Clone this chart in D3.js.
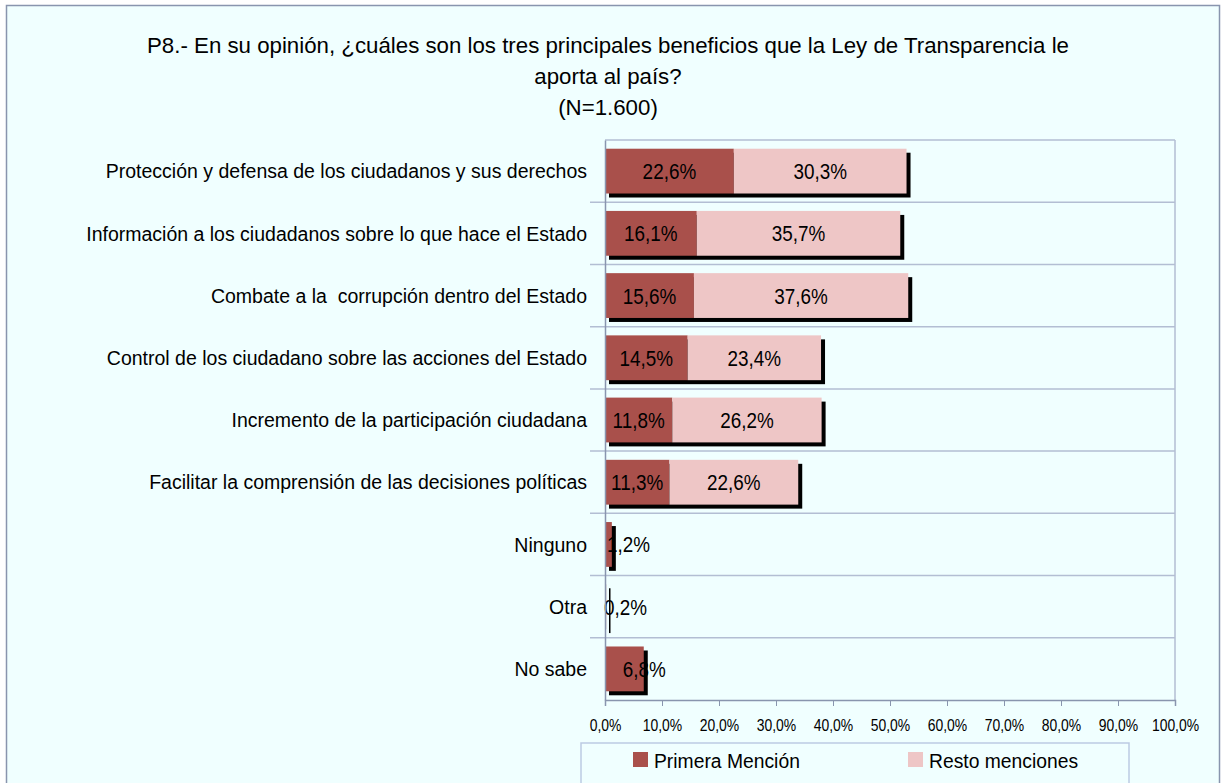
<!DOCTYPE html>
<html>
<head>
<meta charset="utf-8">
<script src="https://cdn.jsdelivr.net/npm/d3@7"></script>
<style>
  body { margin: 0; background: #fff; }
  text { font-family: "Liberation Sans", Arial, sans-serif; fill: #000; white-space: pre; }
</style>
</head>
<body>
<div id="chart"></div>
<script>
// Data
const categories = [
    "Protección y defensa de los ciudadanos y sus derechos",
    "Información a los ciudadanos sobre lo que hace el Estado",
    "Combate a la  corrupción dentro del Estado",
    "Control de los ciudadano sobre las acciones del Estado",
    "Incremento de la participación ciudadana",
    "Facilitar la comprensión de las decisiones políticas",
    "Ninguno",
    "Otra",
    "No sabe"
];
const primera = [22.6, 16.1, 15.6, 14.5, 11.8, 11.3, 1.2, 0.2, 6.8];
const resto = [30.3, 35.7, 37.6, 23.4, 26.2, 22.6, 0, 0, 0];
const seriesNames = ["Primera Mención", "Resto menciones"];
const tickValues = [0, 10, 20, 30, 40, 50, 60, 70, 80, 90, 100];
const titleLines = [
    "P8.- En su opinión, ¿cuáles son los tres principales beneficios que la Ley de Transparencia le",
    "aporta al país?",
    "(N=1.600)"
];

const width = 1222, height = 783;
const colors = ["#A9504B", "#EEC6C6"];
const fmt = v => v.toFixed(1).replace(".", ",") + "%";

// squeeze text horizontally around its own x (the reference uses a narrow font)
function condense(sel, s) {
    sel.attr("transform", function() {
        const x0 = +this.getAttribute("x") || 0;
        return `translate(${x0},0) scale(${s},1) translate(${-x0},0)`;
    });
}

const svg = d3.select("#chart").append("svg")
    .attr("width", width)
    .attr("height", height);

// Outer frame
svg.append("rect")
    .attr("x", 6.5).attr("y", 5.5)
    .attr("width", 1213).attr("height", 790)
    .attr("fill", "#F0FFFF")
    .attr("stroke", "#8995AE")
    .attr("stroke-width", 1.5);

// Title
svg.append("g").selectAll("text")
    .data(titleLines)
    .join("text")
    .attr("x", 608)
    .attr("y", (d, i) => 53 + i * 31)
    .attr("text-anchor", "middle")
    .style("font-size", "22.5px")
    .text(d => d)
    .call(condense, 0.99);

// Scales
const plot = { left: 605, right: 1175, top: 140, bottom: 700 };
const x = d3.scaleLinear().domain([0, 100]).range([plot.left, plot.right]);
const y = d3.scaleBand().domain(categories).range([plot.top, plot.bottom]).paddingInner(0.28).paddingOuter(0.14);

// Plot border + gridlines between categories
const step = y.step();
const boundaries = d3.range(categories.length).map(i => plot.top + i * step);
svg.append("g").selectAll("line")
    .data(boundaries)
    .join("line")
    .attr("x1", (d, i) => i === 0 ? plot.left : plot.left - 15)
    .attr("x2", plot.right)
    .attr("y1", d => d).attr("y2", d => d)
    .attr("stroke", "#B3BED3")
    .attr("stroke-width", 1.5);
svg.append("line")
    .attr("x1", plot.right).attr("x2", plot.right)
    .attr("y1", plot.top).attr("y2", plot.bottom)
    .attr("stroke", "#B3BED3").attr("stroke-width", 1.5);

// Bars
const rows = categories.map((c, i) => ({ cat: c, a: primera[i], b: resto[i] }));
const barG = svg.append("g");

// shadow behind each stacked bar
barG.selectAll(".shadow")
    .data(rows)
    .join("rect")
    .attr("class", "shadow")
    .attr("x", x(0) + 4)
    .attr("y", d => y(d.cat) + 4)
    .attr("width", d => Math.max(x(d.a + d.b) - x(0), 1.5))
    .attr("height", y.bandwidth())
    .attr("fill", "#000");

barG.selectAll(".seg-a")
    .data(rows)
    .join("rect")
    .attr("class", "seg-a")
    .attr("x", x(0))
    .attr("y", d => y(d.cat))
    .attr("width", d => x(d.a) - x(0))
    .attr("height", y.bandwidth())
    .attr("fill", colors[0]);

barG.selectAll(".seg-b")
    .data(rows.filter(d => d.b > 0))
    .join("rect")
    .attr("class", "seg-b")
    .attr("x", d => x(d.a))
    .attr("y", d => y(d.cat))
    .attr("width", d => x(d.a + d.b) - x(d.a))
    .attr("height", y.bandwidth())
    .attr("fill", colors[1]);

// Value labels
const labels = [];
rows.forEach(d => {
    const wA = x(d.a) - x(0);
    labels.push({ cat: d.cat, v: d.a, cx: wA < 45 ? x(d.a / 2) + 20 : x(d.a / 2) });
    if (d.b > 0) labels.push({ cat: d.cat, v: d.b, cx: x(d.a + d.b / 2) });
});
svg.append("g").selectAll("text")
    .data(labels)
    .join("text")
    .attr("x", d => d.cx)
    .attr("y", d => y(d.cat) + y.bandwidth() / 2 + 8)
    .attr("text-anchor", "middle")
    .style("font-size", "22.5px")
    .text(d => fmt(d.v))
    .call(condense, 0.84);

// Y axis
svg.append("g")
    .attr("transform", `translate(${plot.left},0)`)
    .call(d3.axisLeft(y).tickSize(0).tickPadding(18))
    .call(g => g.select(".domain").attr("stroke", "#8995AE").attr("stroke-width", 1.5))
    .call(g => g.selectAll("text")
        .style("font-size", "20px")
        .style("font-family", "'Liberation Sans', Arial, sans-serif")
        .attr("dy", "0.36em")
        .call(condense, 0.975));

// X axis
svg.append("g")
    .attr("transform", `translate(0,${plot.bottom})`)
    .call(d3.axisBottom(x).tickValues(tickValues).tickSize(6).tickPadding(14).tickFormat(fmt))
    .call(g => g.select(".domain").attr("stroke", "#8995AE").attr("stroke-width", 1.5))
    .call(g => g.selectAll(".tick line").attr("stroke", "#8995AE"))
    .call(g => g.selectAll("text")
        .style("font-size", "16px")
        .style("font-family", "'Liberation Sans', Arial, sans-serif")
        .call(condense, 0.87));

// Legend
const legend = svg.append("g");
legend.append("rect")
    .attr("x", 581).attr("y", 743)
    .attr("width", 548).attr("height", 50)
    .attr("fill", "#F0FFFF")
    .attr("stroke", "#BCCBE3")
    .attr("stroke-width", 1.5);
const legendX = [633, 908];
seriesNames.forEach((name, i) => {
    legend.append("rect")
        .attr("x", legendX[i]).attr("y", 752)
        .attr("width", 15).attr("height", 15)
        .attr("fill", colors[i]);
    legend.append("text")
        .attr("x", legendX[i] + 21).attr("y", 768)
        .style("font-size", "21px")
        .text(name)
        .call(condense, 0.92);
});
</script>
</body>
</html>
